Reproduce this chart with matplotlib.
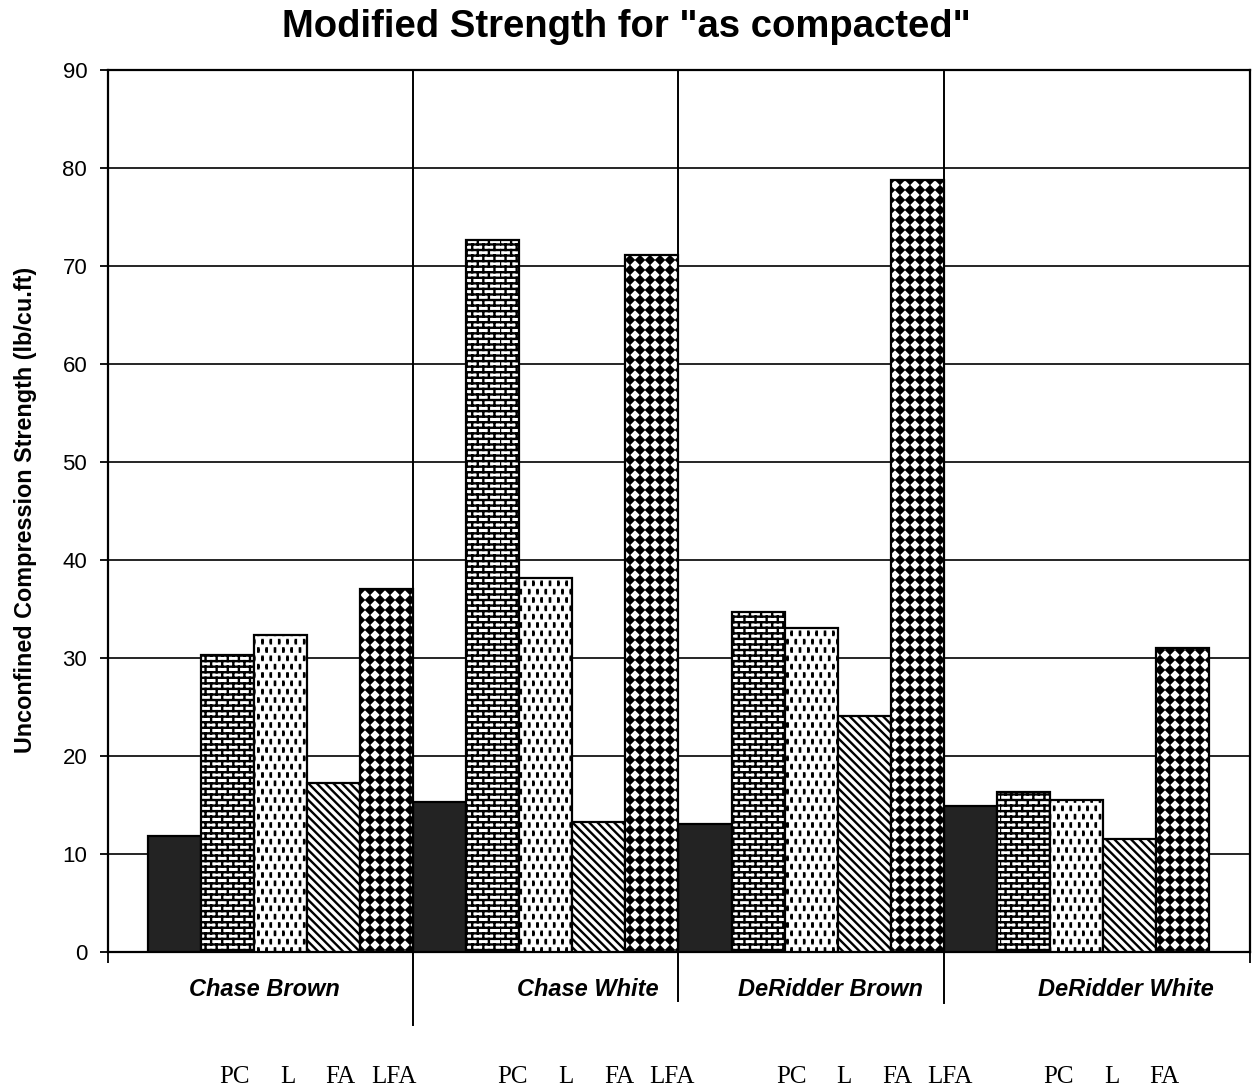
import numpy as np
import matplotlib
matplotlib.use("Agg")
import matplotlib.pyplot as plt
import matplotlib.hatch as mhatch
from matplotlib.path import Path
from matplotlib.transforms import blended_transform_factory

# strength values (lb/cu.ft) per soil
soils = ["Chase Brown", "Chase White", "DeRidder Brown", "DeRidder White"]
untreated = [11.8, 15.3, 13.1, 14.9]
pc = [30.3, 72.7, 34.7, 16.3]
lime = [32.3, 38.2, 33.1, 15.5]
fly_ash = [17.2, 13.3, 24.1, 11.5]
lime_fly_ash = [37.0, 71.1, 78.8, 31.0]
additive_labels = ["PC", "L", "FA", "LFA"]
yticks = [0, 10, 20, 30, 40, 50, 60, 70, 80, 90]


# --- custom hatch fills: bricks, short dashes, diamonds ---
class Bricks(mhatch.HatchPatternBase):
    def __init__(self, hatch, density):
        self.rows = hatch.count('-') * density
        self.cols = self.rows // 2
        if self.rows:
            self.num_vertices = (self.rows + 1) * 2 + self.rows * self.cols * 2
        else:
            self.num_vertices = 0

    def set_vertices_and_codes(self, vertices, codes):
        rows, cols = self.rows, self.cols
        k = 0
        for i in range(rows + 1):
            y = i / rows
            vertices[k] = (0, y)
            vertices[k + 1] = (1, y)
            codes[k] = Path.MOVETO
            codes[k + 1] = Path.LINETO
            k += 2
        for i in range(rows):
            y0, y1 = i / rows, (i + 1) / rows
            off = 0.5 / cols if i % 2 else 0.0
            for j in range(cols):
                x = j / cols + off
                vertices[k] = (x, y0)
                vertices[k + 1] = (x, y1)
                codes[k] = Path.MOVETO
                codes[k + 1] = Path.LINETO
                k += 2


class FilledGrid(mhatch.HatchPatternBase):
    char = '.'
    mult = 6
    staggered = True

    def shape(self, n):
        raise NotImplementedError

    def centers(self, n):
        pts = []
        for r in range(n + 1):
            if self.staggered and r % 2:
                xs = [(j + 0.5) / n for j in range(n)]
            else:
                xs = [j / n for j in range(n + 1)]
            pts += [(x, r / n) for x in xs]
        return pts

    def __init__(self, hatch, density):
        self.n = hatch.count(self.char) * self.mult
        if self.n:
            self.num_vertices = len(self.centers(self.n)) * 5
        else:
            self.num_vertices = 0

    def set_vertices_and_codes(self, vertices, codes):
        shp = self.shape(self.n)
        k = 0
        for cx, cy in self.centers(self.n):
            vertices[k:k + 5] = shp + [cx, cy]
            codes[k] = Path.MOVETO
            codes[k + 1:k + 4] = Path.LINETO
            codes[k + 4] = Path.CLOSEPOLY
            k += 5


class Dashes(FilledGrid):
    char = '.'
    mult = 6
    staggered = True

    def shape(self, n):
        w, h = 0.01 / n, 0.2 / n
        return np.array([[-w, -h], [w, -h], [w, h], [-w, h], [-w, -h]])


class Diamonds(FilledGrid):
    char = '*'
    mult = 5
    staggered = False

    def shape(self, n):
        d = 0.36 / n
        return np.array([[0, d], [-d, 0], [0, -d], [d, 0], [0, d]])


mhatch._hatch_types = [
    Bricks if t is mhatch.HorizontalHatch else
    Dashes if t is mhatch.SmallFilledCircles else
    Diamonds if t is mhatch.Stars else t
    for t in mhatch._hatch_types
]

plt.rcParams['font.family'] = ['Liberation Sans', 'DejaVu Sans']
plt.rcParams['hatch.linewidth'] = 1.7

fig = plt.figure(figsize=(12.53, 10.91), dpi=100)
ax = fig.add_axes([0.0862, 0.1274, 0.9114, 0.8084])

series = [untreated, pc, lime, fly_ash, lime_fly_ash]
fills = [dict(facecolor='#232323', hatch=None),
         dict(facecolor='white', hatch='---'),
         dict(facecolor='white', hatch='..'),
         dict(facecolor='white', hatch='\\\\\\\\'),
         dict(facecolor='white', hatch='**')]

n_series = len(series)
for s, (vals, style) in enumerate(zip(series, fills)):
    x = np.arange(len(soils)) * n_series + s
    ax.bar(x, vals, width=1.0, edgecolor='black', linewidth=1.6,
           zorder=3, **style)

ax.set_xlim(-1.25, len(soils) * n_series - 0.5 + 0.77)
ax.set_ylim(0, 90)
ax.set_yticks(yticks)
ax.yaxis.grid(True, color='black', linewidth=1.2, zorder=0)
ax.set_axisbelow(True)
ax.tick_params(axis='y', labelsize=16, length=6, width=1.3, pad=9)
ax.set_xticks(ax.get_xlim())
ax.set_xticklabels([])
ax.tick_params(axis='x', length=8, width=1.3)
for sp in ax.spines.values():
    sp.set_linewidth(1.6)

# group separators running below the axis
trans = blended_transform_factory(ax.transData, ax.transAxes)
sep_bottom = [-0.083, -0.055, -0.058]
for g in range(1, len(soils)):
    xb = g * n_series - 0.5
    ax.plot([xb, xb], [sep_bottom[g - 1], 1], color='black', linewidth=1.4,
            transform=trans, clip_on=False, zorder=4)

# soil names
soil_label_x = [1.69, 7.79, 12.36, 17.94]
for name, xl in zip(soils, soil_label_x):
    ax.text(xl, -0.042, name, transform=trans, ha='center', va='center',
            fontsize=17, fontweight='bold', fontstyle='italic')

# additive labels under each group
label_shift = [0.13, 0.38, 0.62, 0.66]
for g in range(len(soils)):
    labels = additive_labels if g < len(soils) - 1 else additive_labels[:3]
    for i, lab in enumerate(labels):
        ax.text(g * n_series + i + 1 + label_shift[g], -0.142, lab,
                transform=trans, ha='center', va='center', fontsize=18,
                family=['Liberation Serif', 'DejaVu Serif'])

fig.text(0.5, 0.966, 'Modified Strength for "as compacted"', ha='center',
         va='baseline', fontsize=27.5, fontweight='bold')
fig.text(0.02, 0.533, 'Unconfined Compression Strength (lb/cu.ft)',
         rotation=90, ha='center', va='center', fontsize=16.8,
         fontweight='bold')

fig.savefig('out.png', dpi=100)
